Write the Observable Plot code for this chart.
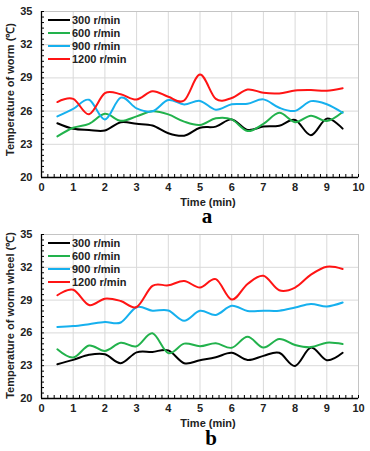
<!DOCTYPE html>
<html>
<head>
<meta charset="utf-8">
<script src="https://cdn.jsdelivr.net/npm/d3@7"></script>
<script src="https://cdn.jsdelivr.net/npm/@observablehq/plot@0.6"></script>
<style>
  html, body { margin: 0; padding: 0; background: #fff; }
  #wrap { position: relative; width: 370px; height: 451px; overflow: hidden; }
  .chart { position: absolute; left: 0; }
  .tag { position: absolute; font-family: "Liberation Serif", "Times New Roman", serif; font-weight: bold; font-size: 21px; line-height: 13px; transform: translateX(-50%); color: #000; }
</style>
</head>
<body>
<div id="wrap"></div>
<script>
// ---- data ----
const time = [0.5, 1, 1.5, 2, 2.5, 3, 3.5, 4, 4.5, 5, 5.5, 6, 6.5, 7, 7.5, 8, 8.5, 9, 9.5];
const series = ["300 r/min", "600 r/min", "900 r/min", "1200 r/min"];
const colors = ["#000000", "#22b24c", "#16b0ee", "#ff1414"];

// (a) temperature of worm
const worm300  = [24.9, 24.4, 24.3, 24.25, 25.0, 24.85, 24.7, 24.0, 23.78, 24.5, 24.6, 25.25, 24.3, 24.6, 24.68, 25.2, 23.82, 25.32, 24.42];
const worm600  = [23.72, 24.5, 24.85, 25.75, 25.12, 25.52, 25.98, 25.7, 25.05, 24.75, 25.35, 25.25, 24.2, 24.85, 25.85, 25.0, 25.58, 25.1, 25.92];
const worm900  = [25.52, 26.2, 27.02, 25.25, 27.22, 26.25, 25.98, 27.0, 26.6, 26.92, 26.12, 26.62, 26.66, 27.06, 26.3, 26.02, 26.9, 26.62, 25.85];
const worm1200 = [26.82, 27.1, 25.72, 27.62, 27.52, 27.05, 27.8, 27.3, 26.96, 29.3, 27.1, 27.18, 27.95, 27.65, 27.6, 27.86, 27.9, 27.84, 28.06];

// (b) temperature of worm wheel
const wheel300  = [23.14, 23.53, 24.0, 24.05, 23.23, 24.22, 24.26, 24.4, 23.23, 23.5, 23.77, 24.18, 23.53, 23.9, 24.18, 22.98, 24.66, 23.5, 24.18];
const wheel600  = [24.5, 23.75, 24.84, 24.35, 25.1, 24.78, 25.96, 24.15, 25.02, 24.78, 25.05, 24.64, 25.64, 24.66, 25.45, 24.9, 24.7, 25.11, 24.98];
const wheel900  = [26.55, 26.62, 26.8, 27.0, 26.95, 28.35, 28.03, 28.05, 27.12, 28.03, 27.64, 28.48, 28.0, 28.03, 28.03, 28.32, 28.65, 28.42, 28.78];
const wheel1200 = [29.44, 29.95, 28.55, 29.13, 28.92, 28.37, 30.3, 30.35, 30.75, 30.15, 30.92, 29.05, 30.47, 31.22, 29.9, 30.15, 31.33, 32.05, 31.85];

const xTicks = [0, 1, 2, 3, 4, 5, 6, 7, 8, 9, 10];
const yTicks = [20, 23, 26, 29, 32, 35];
const xMinor = d3.range(0, 10.001, 0.2);
const yMinor = d3.range(20, 35.001, 0.5);
const xLabel = "Time (min)";
const yLabelA = "Temperature of worm (\u2103)";
const yLabelB = "Temperature of worm wheel (\u2103)";

function toRows(arrs) {
  const rows = [];
  arrs.forEach((arr, i) => arr.forEach((v, j) => rows.push({t: time[j], v, s: series[i]})));
  return rows;
}

const font = "'Liberation Sans', Arial, sans-serif";

function makeChart(arrs, yLabel, height, yLabelDy) {
  const rows = toRows(arrs);
  const chart = Plot.plot({
    width: 370, height,
    marginLeft: 41, marginRight: 12, marginTop: 11, marginBottom: 31,
    x: {domain: [0, 10]},
    y: {domain: [20, 35]},
    color: {domain: series, range: colors},
    style: {fontFamily: font, fontSize: "11px", fontWeight: "bold", color: "#222", background: "transparent", overflow: "visible"},
    marks: [
      Plot.ruleX(xTicks.slice(1, -1), {stroke: "#d9d9d9", strokeWidth: 1}),
      Plot.ruleY(yTicks.slice(1, -1), {stroke: "#d9d9d9", strokeWidth: 1}),
      Plot.frame({stroke: "#c4c4c4"}),
      Plot.line(rows, {x: "t", y: "v", z: "s", stroke: "s", strokeWidth: 2, curve: "cardinal"}),
      Plot.ruleX([0], {stroke: "#000", strokeWidth: 1.3}),
      Plot.ruleY([20], {stroke: "#000", strokeWidth: 1.3}),
      Plot.axisX(xMinor, {anchor: "bottom", tickSize: -3, tickFormat: () => "", label: null, stroke: "#000"}),
      Plot.axisY(yMinor, {anchor: "left", tickSize: -3, tickFormat: () => "", label: null, stroke: "#000"}),
      Plot.axisX(xTicks, {anchor: "bottom", tickSize: 0, tickPadding: 6, label: null, fill: "#222"}),
      Plot.axisY(yTicks, {anchor: "left", tickSize: 0, tickPadding: 9, label: null, fill: "#222"}),
      Plot.text([xLabel], {frameAnchor: "bottom", dy: 28, dx: 8, fill: "#222"}),
      Plot.text([yLabel], {frameAnchor: "left", textAnchor: "middle", lineAnchor: "middle", rotate: -90, dx: -31, dy: yLabelDy, fill: "#222"})
    ]
  });
  // legend inside the plot frame, top-left
  const svg = d3.select(chart);
  const g = svg.append("g")
    .attr("transform", `translate(${41 + 7},${11 + 9})`)
    .attr("text-anchor", "start")
    .attr("font-family", font).attr("font-size", 11).attr("font-weight", "bold");
  series.forEach((name, i) => {
    g.append("line").attr("x1", 0).attr("x2", 22).attr("y1", i * 13).attr("y2", i * 13)
      .attr("stroke", colors[i]).attr("stroke-width", 2);
    g.append("text").attr("x", 24).attr("y", i * 13).attr("dy", "0.35em").attr("fill", "#222").text(name);
  });
  return chart;
}

const wrap = document.getElementById("wrap");
const chartA = makeChart([worm300, worm600, worm900, worm1200], yLabelA, 208, -5);
chartA.classList.add("chart"); chartA.style.top = "0px";
wrap.appendChild(chartA);

const chartB = makeChart([wheel300, wheel600, wheel900, wheel1200], yLabelB, 206, -1);
chartB.classList.add("chart"); chartB.style.top = "223px";
wrap.appendChild(chartB);

const tagA = document.createElement("div");
tagA.className = "tag"; tagA.textContent = "a";
tagA.style.left = "207px"; tagA.style.top = "210px";
wrap.appendChild(tagA);

const tagB = document.createElement("div");
tagB.className = "tag"; tagB.textContent = "b";
tagB.style.left = "211px"; tagB.style.top = "432px";
wrap.appendChild(tagB);
</script>
</body>
</html>
